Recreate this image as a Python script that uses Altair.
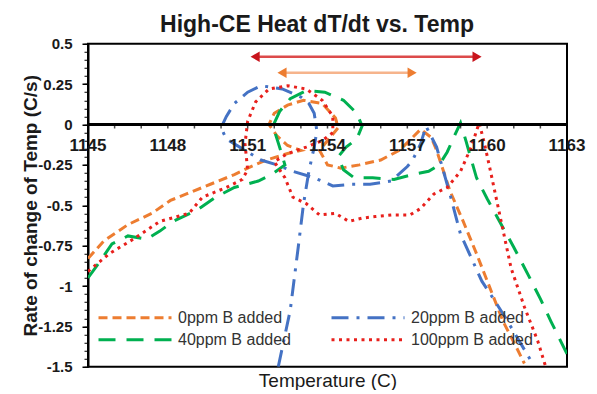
import altair as alt
import pandas as pd

SERIES = ["0ppm B added", "20ppm B added", "40ppm B added", "100ppm B added"]
COLORS = ["#ED7D31", "#4472C4", "#00B050", "#E8201C"]
DASHES = [[9, 5], [17, 8, 3, 8], [17, 11], [3, 4.5]]

# 0ppm B added (orange)
t0 = [1145.0, 1145.6, 1146.5, 1147.4, 1148.1, 1148.7, 1149.6, 1150.5, 1151.0, 1151.7,
      1152.5, 1153.0, 1152.5, 1152.1, 1151.8, 1152.0, 1152.5, 1153.1, 1153.8, 1154.3,
      1154.4, 1154.1, 1153.7, 1154.0, 1154.5, 1155.2, 1156.0, 1156.7, 1157.2, 1157.5,
      1157.9, 1158.1, 1158.6, 1159.1, 1159.6, 1160.1, 1160.6, 1161.1, 1161.4]
r0 = [-0.83, -0.72, -0.62, -0.55, -0.47, -0.43, -0.37, -0.31, -0.27, -0.22,
      -0.18, -0.16, -0.13, -0.07, 0.0, 0.07, 0.12, 0.15, 0.13, 0.04,
      -0.02, -0.08, -0.16, -0.25, -0.27, -0.25, -0.22, -0.16, -0.08, -0.03,
      -0.08, -0.16, -0.41, -0.60, -0.80, -1.01, -1.22, -1.38, -1.48]

# 20ppm B added (blue)
t20 = [1152.15, 1152.6, 1152.9, 1153.1, 1153.3, 1153.5, 1153.6, 1153.5, 1153.3, 1153.0,
       1152.3, 1151.5, 1151.0, 1150.5, 1150.2, 1150.0, 1150.2, 1150.7, 1151.5, 1152.1,
       1152.7, 1153.5, 1154.2, 1154.9, 1155.6, 1156.4, 1157.0, 1157.2, 1157.5, 1157.7,
       1158.1, 1158.6, 1159.0, 1159.8, 1160.2, 1160.7, 1161.6, 1161.7]
r20 = [-1.50, -1.15, -0.76, -0.49, -0.29, -0.14, -0.04, 0.07, 0.13, 0.17,
       0.22, 0.24, 0.20, 0.13, 0.05, -0.02, -0.09, -0.14, -0.22, -0.25,
       -0.29, -0.33, -0.38, -0.37, -0.37, -0.35, -0.26, -0.22, -0.12, -0.01,
       -0.14, -0.43, -0.68, -0.97, -1.07, -1.20, -1.45, -1.48]

# 40ppm B added (green)
t40 = [1145.0, 1145.4, 1145.9, 1146.5, 1147.2, 1147.7, 1148.2, 1149.1, 1149.8, 1150.5,
       1151.4, 1151.9, 1152.4, 1152.2, 1151.95, 1152.2, 1152.6, 1153.2, 1153.9, 1154.6,
       1155.1, 1155.3, 1155.1, 1154.7, 1154.4, 1154.6, 1155.0, 1155.7, 1156.5, 1157.2,
       1157.8, 1158.2, 1158.5, 1158.8, 1159.0, 1159.2, 1159.6, 1160.0, 1160.4, 1161.0,
       1161.6, 1162.0, 1162.4, 1163.0]
r40 = [-0.95, -0.86, -0.74, -0.69, -0.71, -0.66, -0.60, -0.53, -0.45, -0.39,
       -0.35, -0.31, -0.25, -0.14, -0.01, 0.08, 0.16, 0.21, 0.20, 0.15,
       0.07, -0.01, -0.09, -0.14, -0.20, -0.28, -0.33, -0.33, -0.34, -0.31,
       -0.29, -0.25, -0.17, -0.06, 0.01, -0.10, -0.33, -0.46, -0.58, -0.76,
       -0.95, -1.08, -1.22, -1.42]

# 100ppm B added (red)
t100 = [1145.0, 1145.8, 1146.7, 1147.7, 1148.8, 1149.3, 1150.2, 1150.8, 1151.0, 1150.9,
        1151.0, 1151.3, 1151.8, 1152.5, 1153.2, 1153.8, 1154.2, 1154.2, 1153.8, 1153.2,
        1152.5, 1152.0, 1152.4, 1152.7, 1153.2, 1153.7, 1154.3, 1154.8, 1155.3, 1155.8,
        1156.4, 1157.1, 1157.5, 1158.0, 1158.5, 1159.0, 1159.4, 1159.7, 1159.9, 1160.1,
        1160.5, 1160.9, 1161.4, 1161.9, 1162.2]
r100 = [-0.91, -0.80, -0.71, -0.60, -0.55, -0.45, -0.39, -0.34, -0.28, -0.12,
        0.02, 0.14, 0.22, 0.24, 0.22, 0.15, 0.05, -0.05, -0.10, -0.14,
        -0.18, -0.23, -0.33, -0.45, -0.49, -0.56, -0.55, -0.60, -0.58, -0.57,
        -0.56, -0.56, -0.52, -0.43, -0.39, -0.29, -0.14, 0.01, -0.12, -0.27,
        -0.58, -0.89, -1.13, -1.34, -1.50]

# arrows (head centres), colours
ARROW_X1 = [1151.28, 1152.29]
ARROW_X2 = [1159.62, 1157.18]
ARROW_Y = [0.42, 0.32]
ARROW_LINE = ["#DC4B4B", "#F6B48C"]
ARROW_HEAD = ["#C8141C", "#ED7D31"]

X_TICKS = list(range(1145, 1164))
X_LABELS = [1145, 1148, 1151, 1154, 1157, 1160, 1163]
Y_MAJOR = [-1.5, -1.25, -1.0, -0.75, -0.5, -0.25, 0.0, 0.25, 0.5]
Y_MINOR = [round(-1.5 + 0.05 * i, 2) for i in range(41)]

TITLE = "High-CE Heat dT/dt vs. Temp"
X_TITLE = "Temperature (C)"
Y_TITLE = "Rate of change of Temp (C/s)"

rows = []
for name, ts, rs in zip(SERIES, [t0, t20, t40, t100], [r0, r20, r40, r100]):
    for i, (t, r) in enumerate(zip(ts, rs)):
        rows.append({"series": name, "temp": t, "rate": r, "idx": i})
df = pd.DataFrame(rows)

arr = pd.DataFrame({"x1": ARROW_X1, "x2": ARROW_X2, "y": ARROW_Y,
                    "lc": ARROW_LINE, "hc": ARROW_HEAD})
heads = pd.DataFrame({
    "x": ARROW_X1 + ARROW_X2,
    "y": ARROW_Y + ARROW_Y,
    "hc": ARROW_HEAD + ARROW_HEAD,
    "shape": ["triangle-left", "triangle-left", "triangle-right", "triangle-right"],
})
ticks_df = pd.DataFrame({"t": X_TICKS})
labels_df = pd.DataFrame({"t": X_LABELS, "lab": [str(v) for v in X_LABELS]})

W, H = 479, 323
FONT = "Liberation Sans"
xscale = alt.Scale(domain=[1145, 1163], nice=False, zero=False)
yscale = alt.Scale(domain=[-1.5, 0.5], nice=False, zero=False)

legend = alt.Legend(
    title=None, orient="none", legendX=9, legendY=266, columns=2, direction="horizontal",
    columnPadding=39, rowPadding=6, symbolType="stroke", symbolSize=5329,
    symbolStrokeWidth=3, clipHeight=16, labelFontSize=16, labelFont=FONT,
    labelColor="#333333", padding=0, labelOffset=5,
)

xaxis = alt.Axis(
    orient="bottom", labels=False, ticks=False, domain=False, grid=False,
    title=X_TITLE, titleFont=FONT, titleFontSize=19, titleFontWeight="normal",
    titleColor="#1a1a1a", titleX=W / 2, titleY=20, titleAlign="center",
    titleBaseline="alphabetic",
)

top_axis = alt.Axis(
    orient="top", labels=False, ticks=False, domain=False, grid=False,
    title=TITLE, titleFont=FONT, titleFontSize=23, titleFontWeight="bold",
    titleColor="#1a1a1a", titleX=W / 2 - 11, titleY=-12, titleAlign="center",
    titleBaseline="alphabetic",
)

yaxis = alt.Axis(
    orient="left", values=Y_MAJOR, labelExpr="toString(datum.value)",
    labelFont=FONT, labelFontSize=15, labelFontWeight="bold", labelColor="#1a1a1a",
    labelPadding=10, labelOverlap=False, labelFlush=False, labelBound=False,
    tickSize=6, tickWidth=1.5, tickColor="#000000",
    domainColor="#000000", domainWidth=2, grid=False,
    title=Y_TITLE, titleFont=FONT, titleFontSize=19,
    titleFontWeight="bold", titleColor="#1a1a1a", titleX=-58, titleY=H / 2,
    titleAngle=270, titleAlign="center", titleBaseline="middle",
)

yminor = alt.Axis(
    orient="left", values=Y_MINOR, labels=False, domain=False, grid=False,
    tickSize=4, tickWidth=1, tickColor="#000000", title=None,
)

lines = alt.Chart(df).mark_line(strokeWidth=3, clip=True).encode(
    x=alt.X("temp:Q", scale=xscale, axis=xaxis),
    y=alt.Y("rate:Q", scale=yscale, axis=yaxis),
    color=alt.Color("series:N", scale=alt.Scale(domain=SERIES, range=COLORS), legend=legend),
    strokeDash=alt.StrokeDash("series:N", scale=alt.Scale(domain=SERIES, range=DASHES), legend=legend),
    order="idx:Q",
)

zero_line = alt.Chart(ticks_df).mark_rule(color="#000000", strokeWidth=2).encode(
    y=alt.YDatum(0, scale=yscale, axis=None),
)

zero_ticks = alt.Chart(ticks_df).mark_tick(
    color="#000000", orient="vertical", size=4, thickness=1.5, yOffset=2
).encode(
    x=alt.X("t:Q", scale=xscale, axis=None),
    y=alt.YDatum(0, scale=yscale, axis=None),
)

zero_labels = alt.Chart(labels_df).mark_text(
    font=FONT, fontSize=17, fontWeight="bold", color="#1a1a1a",
    baseline="top", align="center", dy=13,
).encode(
    x=alt.X("t:Q", scale=xscale, axis=None),
    y=alt.YDatum(0, scale=yscale, axis=None),
    text="lab:N",
)

arrow_lines = alt.Chart(arr).mark_rule(strokeWidth=2.5).encode(
    x=alt.X("x1:Q", scale=xscale, axis=None),
    x2="x2:Q",
    y=alt.Y("y:Q", scale=yscale, axis=None),
    color=alt.Color("lc:N", scale=None),
)

arrow_heads = alt.Chart(heads).mark_point(filled=True, size=110, opacity=1).encode(
    x=alt.X("x:Q", scale=xscale, axis=None),
    y=alt.Y("y:Q", scale=yscale, axis=None),
    shape=alt.Shape("shape:N", scale=None),
    color=alt.Color("hc:N", scale=None),
)

minor = alt.Chart(ticks_df).mark_point(opacity=0).encode(
    x=alt.X("t:Q", scale=xscale, axis=top_axis),
    y=alt.YDatum(0, scale=yscale, axis=yminor),
)

chart = alt.layer(
    lines, zero_line, zero_ticks, zero_labels, arrow_lines, arrow_heads, minor
).resolve_axis(
    x="independent", y="independent"
).properties(
    width=W, height=H,
    background="white",
    autosize=alt.AutoSizeParams(type="none"),
    padding={"left": 80, "top": 35.75, "right": 22, "bottom": 23},
).configure_view(stroke="#000000", strokeWidth=2)

chart.save("out.html", embed_options={"renderer": "svg", "actions": False})
